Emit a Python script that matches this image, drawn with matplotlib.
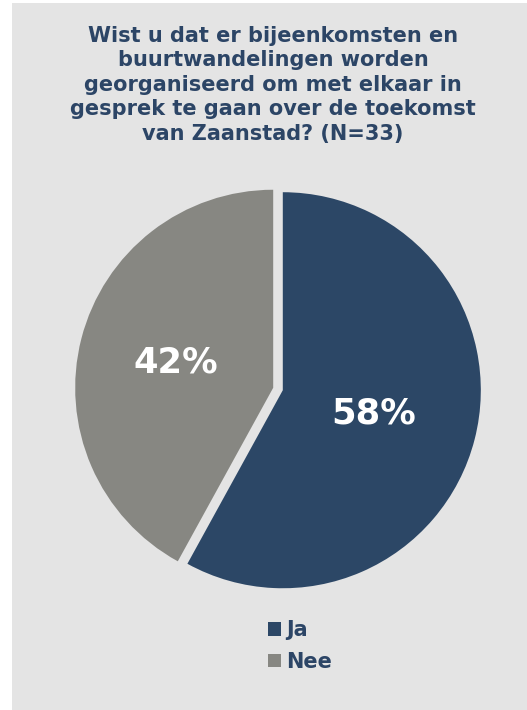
import matplotlib
matplotlib.use('Agg')
import matplotlib.pyplot as plt
from matplotlib.patches import Rectangle

# data
labels = ['Ja', 'Nee']
values = [58, 42]
colors = ['#2c4766', '#878782']
title = ('Wist u dat er bijeenkomsten en\nbuurtwandelingen worden\n'
         'georganiseerd om met elkaar in\ngesprek te gaan over de toekomst\n'
         'van Zaanstad? (N=33)')

bg = '#e4e4e4'
navy = '#2c4566'

fig = plt.figure(figsize=(5.27, 7.10), dpi=100)
fig.patch.set_facecolor('white')
# gray panel
fig.patches.append(Rectangle((12 / 527, 0), 1, 1 - 3 / 710, transform=fig.transFigure,
                             facecolor=bg, edgecolor='none', zorder=-5))

fig.text(273 / 527, 1 - 26 / 710, title, ha='center', va='top', fontsize=15,
         fontweight='bold', color=navy, linespacing=1.28)

ax = fig.add_axes([78 / 527, (710 - 589) / 710, 400 / 527, 400 / 710])
ax.set_zorder(2)
ax.set_facecolor('none')
wedges, texts, autotexts = ax.pie(values, colors=colors, startangle=90, counterclock=False,
                                  explode=[0.025, 0.025], autopct='%d%%', pctdistance=0.51,
                                  radius=1.0,
                                  textprops=dict(color='white', fontsize=25.5, fontweight='bold'))
# pull the Ja label a bit toward the centre
x, y = autotexts[0].get_position()
autotexts[0].set_position((x * 0.93, y * 0.93))
ax.set_xlim(-1.01, 1.01)
ax.set_ylim(-1.01, 1.01)
ax.set_aspect('equal')
ax.axis('off')

leg = fig.legend(wedges, labels, loc='center', bbox_to_anchor=(300 / 527, 1 - 646 / 710),
                 frameon=False, handlelength=0.6, handleheight=0.6, handletextpad=0.25,
                 labelspacing=0.55, prop=dict(size=15, weight='bold'))
for t in leg.get_texts():
    t.set_color(navy)

fig.savefig('out.png', dpi=100, facecolor=fig.get_facecolor())
